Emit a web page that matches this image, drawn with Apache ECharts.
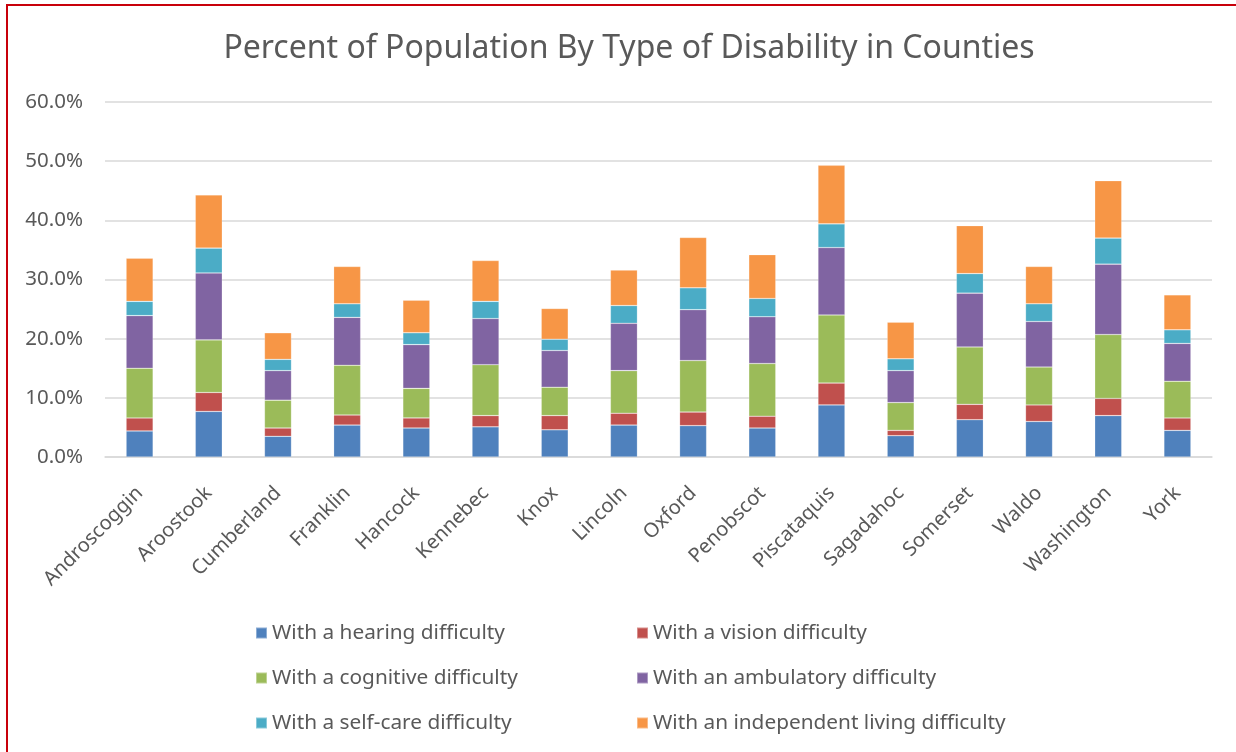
<!DOCTYPE html>
<html>
<head>
<meta charset="utf-8">
<script src="https://cdn.jsdelivr.net/npm/echarts@6/dist/echarts.min.js"></script>
<style>
  html, body { margin: 0; padding: 0; background: #fff; }
  #frame {
    position: absolute; left: 6px; top: 4px; width: 1230px; height: 748px;
    border-top: 2px solid #c8000a; border-left: 2px solid #c8000a;
    box-sizing: border-box;
  }
  #main { position: absolute; left: 0; top: 0; width: 1236px; height: 752px; }
</style>
</head>
<body>
<div id="frame"></div>
<div id="main"></div>
<script>
// counties on the x axis
const counties = ["Androscoggin", "Aroostook", "Cumberland", "Franklin", "Hancock", "Kennebec", "Knox",
  "Lincoln", "Oxford", "Penobscot", "Piscataquis", "Sagadahoc", "Somerset", "Waldo", "Washington", "York"];

// percent of population, one value per county
const hearing     = [4.4, 7.7, 3.5, 5.4, 4.9, 5.1, 4.6, 5.4, 5.3, 4.9, 8.8, 3.6, 6.3, 6.0, 7.0, 4.5];
const vision      = [2.2, 3.2, 1.4, 1.7, 1.7, 1.9, 2.4, 2.0, 2.3, 2.0, 3.7, 0.9, 2.6, 2.8, 2.9, 2.1];
const cognitive   = [8.4, 8.9, 4.7, 8.4, 5.0, 8.6, 4.8, 7.2, 8.7, 8.9, 11.5, 4.7, 9.7, 6.4, 10.8, 6.2];
const ambulatory  = [8.9, 11.3, 5.0, 8.1, 7.4, 7.8, 6.2, 8.0, 8.6, 7.9, 11.4, 5.4, 9.1, 7.7, 11.9, 6.4];
const selfCare    = [2.4, 4.2, 1.9, 2.3, 2.0, 2.9, 1.9, 3.0, 3.7, 3.1, 4.0, 2.0, 3.3, 3.0, 4.4, 2.3];
const independent = [7.3, 9.0, 4.5, 6.3, 5.5, 6.9, 5.2, 6.0, 8.5, 7.4, 9.9, 6.2, 8.1, 6.3, 9.7, 5.9];

const seriesNames = ["With a hearing difficulty", "With a vision difficulty", "With a cognitive difficulty",
  "With an ambulatory difficulty", "With a self-care difficulty", "With an independent living difficulty"];
const seriesData = [hearing, vision, cognitive, ambulatory, selfCare, independent];
const colors = ["#4f81bd", "#c0504d", "#9bbb59", "#8064a2", "#4bacc6", "#f79646"];

const font = "'Noto Sans', 'Open Sans', sans-serif";

let myChart = echarts.init(document.getElementById("main"));

let series = seriesData.map((d, i) => ({
  name: seriesNames[i],
  type: "bar",
  stack: "total",
  barWidth: 27,
  itemStyle: { color: colors[i], borderColor: "rgba(255,255,255,0.35)", borderWidth: 0.6 },
  data: d.map(v => v / 100),
}));

let legendText = { fontFamily: font, fontSize: 20.8, color: "#595959", lineHeight: 22 };

let option = {
  animation: false,
  color: colors,
  title: {
    text: "Percent of Population By Type of Disability in Counties",
    left: 624, textAlign: "center", top: 28,
    textStyle: { fontFamily: font, fontSize: 32, fontWeight: "normal", color: "#595959" },
  },
  grid: { left: 105, right: 24, top: 102, bottom: 295 },
  legend: [
    {
      data: [seriesNames[0], seriesNames[2], seriesNames[4]],
      orient: "vertical", left: 250, top: 617, itemWidth: 11, itemHeight: 11, itemGap: 23,
      icon: "rect", textStyle: legendText,
    },
    {
      data: [seriesNames[1], seriesNames[3], seriesNames[5]],
      orient: "vertical", left: 631, top: 617, itemWidth: 11, itemHeight: 11, itemGap: 23,
      icon: "rect", textStyle: legendText,
    },
  ],
  xAxis: {
    type: "category",
    data: counties,
    axisLine: { lineStyle: { color: "#d9d9d9", width: 1.5 } },
    axisTick: { show: false },
    axisLabel: { rotate: 45, margin: 33, interval: 0, fontFamily: font, fontSize: 20, color: "#595959" },
  },
  yAxis: {
    type: "value",
    min: 0, max: 0.6, interval: 0.1,
    axisLabel: {
      margin: 22, fontFamily: font, fontSize: 20.5, color: "#595959",
      formatter: v => (v * 100).toFixed(1) + "%",
    },
    splitLine: { lineStyle: { color: "#d9d9d9", width: 1.5 } },
  },
  series,
};
myChart.setOption(option);
</script>
</body>
</html>
